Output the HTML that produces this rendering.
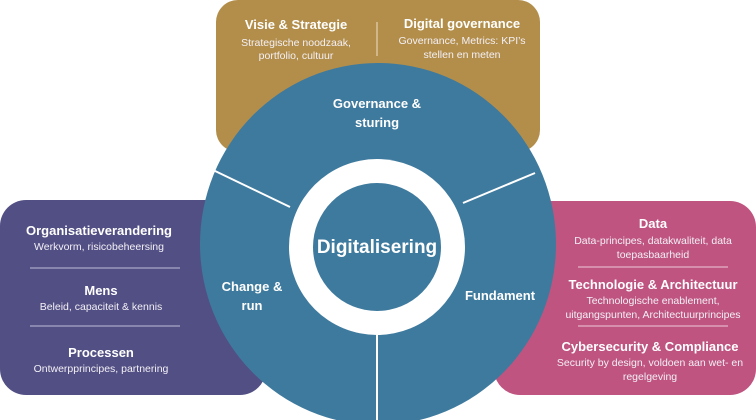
<!DOCTYPE html>
<html><head><meta charset="utf-8"><style>
html,body{margin:0;padding:0;background:#fff;}
body{width:756px;height:420px;overflow:hidden;position:relative;font-family:"Liberation Sans",sans-serif;}
svg{position:absolute;left:0;top:0;}
</style></head><body>
<svg width="756" height="420" viewBox="0 0 756 420" font-family="Liberation Sans, sans-serif" fill="#fff">
<rect x="216" y="0" width="324" height="152" rx="22" fill="#B38E4B"/>
<rect x="0" y="200" width="266" height="195" rx="26" fill="#524F84"/>
<rect x="494" y="201" width="262" height="194" rx="26" fill="#BF5480"/>
<line x1="377" y1="22" x2="377" y2="56" stroke="#d9c49c" stroke-width="1.5"/>
<line x1="30" y1="268" x2="180" y2="268" stroke="#a9a7c6" stroke-width="1.2"/>
<line x1="30" y1="326" x2="180" y2="326" stroke="#a9a7c6" stroke-width="1.2"/>
<line x1="578" y1="267" x2="728" y2="267" stroke="#e4b3c8" stroke-width="1.2"/>
<line x1="578" y1="326" x2="728" y2="326" stroke="#e4b3c8" stroke-width="1.2"/>
<ellipse cx="378" cy="244" rx="178" ry="181" fill="#3E7A9E"/>
<circle cx="377" cy="247" r="88" fill="#fff"/>
<circle cx="377" cy="247" r="64" fill="#3E7A9E"/>
<line x1="213" y1="170" x2="290" y2="207" stroke="#fff" stroke-width="2"/>
<line x1="463" y1="203" x2="535" y2="173" stroke="#fff" stroke-width="2"/>
<line x1="377" y1="335" x2="377" y2="420" stroke="#fff" stroke-width="2"/>
<g text-anchor="middle" font-weight="bold" font-size="13">
<text x="296" y="29">Visie &amp; Strategie</text>
<text x="462" y="28">Digital governance</text>
<text x="377" y="108">Governance &amp;</text>
<text x="377" y="127">sturing</text>
<text x="252" y="291">Change &amp;</text>
<text x="252" y="310">run</text>
<text x="500" y="300">Fundament</text>
<text x="99" y="235">Organisatieverandering</text>
<text x="101" y="295">Mens</text>
<text x="101" y="357">Processen</text>
<text x="653" y="228">Data</text>
<text x="653" y="289">Technologie &amp; Architectuur</text>
<text x="650" y="351">Cybersecurity &amp; Compliance</text>
<text x="377" y="253" font-size="19">Digitalisering</text>
</g>
<g text-anchor="middle" font-size="10.5" fill="#f3f0f6">
<text x="296" y="46">Strategische noodzaak,</text>
<text x="296" y="59">portfolio, cultuur</text>
<text x="462" y="44">Governance, Metrics: KPI’s</text>
<text x="462" y="58">stellen en meten</text>
<text x="99" y="250">Werkvorm, risicobeheersing</text>
<text x="101" y="310">Beleid, capaciteit &amp; kennis</text>
<text x="101" y="372">Ontwerpprincipes, partnering</text>
<text x="653" y="244">Data-principes, datakwaliteit, data</text>
<text x="653" y="258">toepasbaarheid</text>
<text x="653" y="304">Technologische enablement,</text>
<text x="653" y="318">uitgangspunten, Architectuurprincipes</text>
<text x="650" y="366">Security by design, voldoen aan wet- en</text>
<text x="650" y="380">regelgeving</text>
</g>
</svg>
</body></html>
